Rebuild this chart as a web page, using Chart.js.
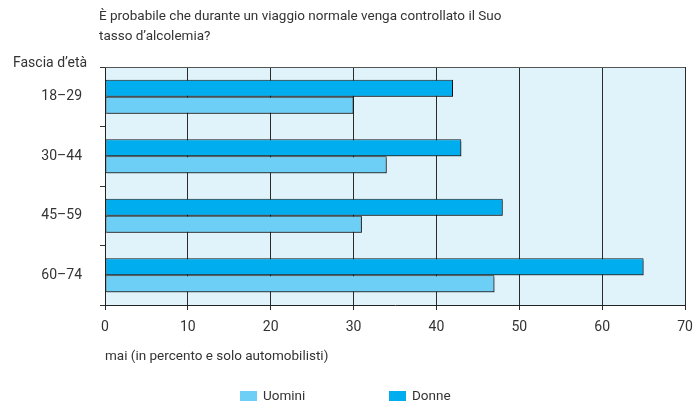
<!DOCTYPE html>
<html>
<head>
<meta charset="utf-8">
<script src="https://cdn.jsdelivr.net/npm/chart.js@4/dist/chart.umd.min.js"></script>
<style>
  html, body { margin: 0; padding: 0; background: #fff; }
  #wrap { width: 694px; height: 403px; position: relative; }
</style>
</head>
<body>
<div id="wrap"><canvas id="myChart"></canvas></div>
<script>
const ageGroups = ['18–29', '30–44', '45–59', '60–74'];
const donne = [42, 43, 48, 65];
const uomini = [30, 34, 31, 47];
const xTicks = [0, 10, 20, 30, 40, 50, 60, 70];
const titleLines = ['È probabile che durante un viaggio normale venga controllato il Suo', 'tasso d’alcolemia?'];
const yTitle = 'Fascia d’età';
const xTitle = 'mai (in percento e solo automobilisti)';

const FONT = "Roboto, 'Open Sans', sans-serif";
const TXT = '#333';

// background, top border, titles and legend
const decor = {
  id: 'decor',
  beforeDraw(chart) {
    const {ctx, chartArea: a} = chart;
    ctx.save();
    ctx.fillStyle = '#e0f3fa';
    ctx.fillRect(a.left, a.top, a.right - a.left, a.bottom - a.top);
    ctx.restore();
  },
  afterDraw(chart) {
    const {ctx, chartArea: a} = chart;
    ctx.save();
    ctx.strokeStyle = '#555';
    ctx.lineWidth = 1;
    ctx.beginPath();
    ctx.moveTo(a.left, a.top + 0.5);
    ctx.lineTo(a.right, a.top + 0.5);
    ctx.stroke();

    ctx.fillStyle = TXT;
    ctx.textBaseline = 'middle';
    ctx.textAlign = 'left';
    ctx.font = '13.5px ' + FONT;
    ctx.fillText(titleLines[0], 99, 17);
    ctx.fillText(titleLines[1], 99, 37);
    ctx.font = '14px ' + FONT;
    ctx.fillText(yTitle, 13, 63);

    // legend (Uomini first, like the original)
    ctx.font = '13.5px ' + FONT;
    const items = [
      {ds: chart.data.datasets[1], x: 240},
      {ds: chart.data.datasets[0], x: 389}
    ];
    items.forEach(it => {
      ctx.fillStyle = it.ds.backgroundColor;
      ctx.fillRect(it.x, 391, 17, 10);
      ctx.fillStyle = TXT;
      ctx.fillText(it.ds.label, it.x + 23, 396.5);
    });
    ctx.restore();
  }
};

const shadow = {
  id: 'shadow',
  beforeDatasetsDraw(chart) {
    const ctx = chart.ctx;
    ctx.save();
    ctx.shadowColor = 'rgba(0,0,0,0.4)';
    ctx.shadowOffsetX = 1.5;
    ctx.shadowOffsetY = 1.5;
    ctx.shadowBlur = 0.5;
  },
  afterDatasetsDraw(chart) {
    chart.ctx.restore();
  }
};

window.onload = function() {
  const ctx = document.getElementById('myChart').getContext('2d');
  new Chart(ctx, {
    type: 'bar',
    data: {
      labels: ageGroups,
      datasets: [{
        label: 'Donne',
        data: donne,
        backgroundColor: '#00aeef',
        borderColor: '#1a1a1a',
        borderWidth: 1,
        borderSkipped: false,
        categoryPercentage: 0.572,
        barPercentage: 1
      }, {
        label: 'Uomini',
        data: uomini,
        backgroundColor: '#6dcff6',
        borderColor: '#1a1a1a',
        borderWidth: 1,
        borderSkipped: false,
        categoryPercentage: 0.572,
        barPercentage: 1
      }]
    },
    options: {
      indexAxis: 'y',
      responsive: true,
      maintainAspectRatio: false,
      animation: false,
      layout: { padding: { top: 67, left: 0, right: 9, bottom: 35 } },
      plugins: {
        legend: { display: false },
        tooltip: { enabled: false }
      },
      scales: {
        x: {
          min: 0,
          max: 70,
          afterBuildTicks: s => { s.ticks = xTicks.map(v => ({value: v})); },
          afterFit: s => { s.height = 63; s.paddingRight = 0; s.paddingLeft = 0; },
          ticks: {
            color: TXT,
            font: { family: FONT, size: 14 },
            padding: 9
          },
          grid: { color: '#2a2a2a', lineWidth: 1, tickLength: 5 },
          border: { color: '#222', width: 1 },
          title: {
            display: true,
            text: xTitle,
            align: 'start',
            color: TXT,
            font: { family: FONT, size: 13.5 },
            padding: { top: 0, bottom: 3 }
          }
        },
        y: {
          afterFit: s => { s.width = 105; },
          ticks: {
            color: TXT,
            font: { family: FONT, size: 14 },
            padding: 18
          },
          grid: { offset: true, drawOnChartArea: false, color: '#333', tickLength: 5 },
          border: { color: '#222', width: 1 }
        }
      }
    },
    plugins: [decor, shadow]
  });
};
</script>
</body>
</html>
